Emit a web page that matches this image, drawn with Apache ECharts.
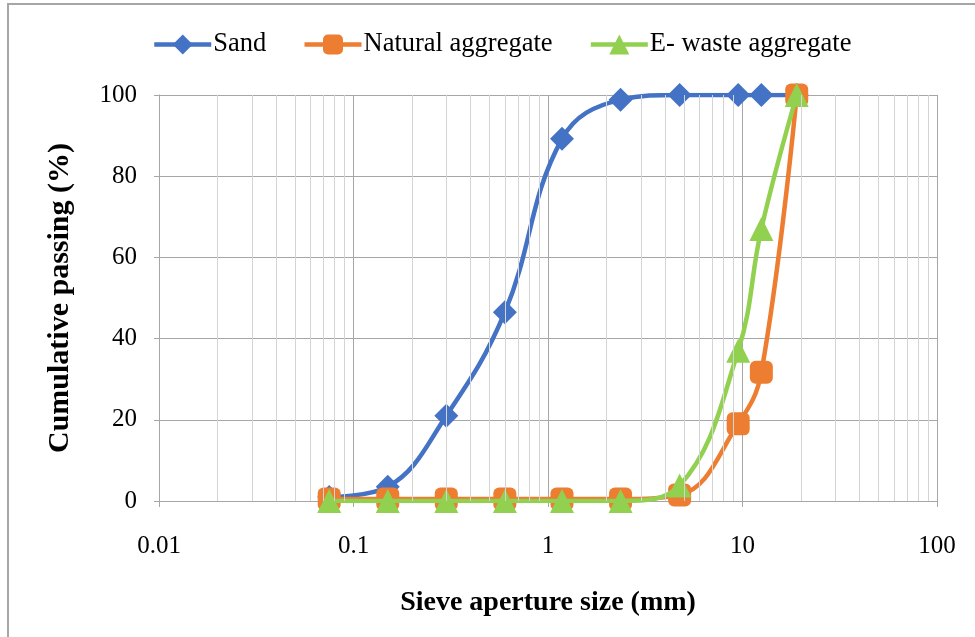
<!DOCTYPE html>
<html><head><meta charset="utf-8">
<script src="https://cdn.jsdelivr.net/npm/echarts@6/dist/echarts.min.js"></script>
<style>html,body{margin:0;padding:0;background:#fff}#c{width:975px;height:637px}</style>
</head><body><div id="c"></div>
<script>
const sieveSizes = [0.075, 0.15, 0.3, 0.6, 1.18, 2.36, 4.75, 9.5, 12.5, 19];
const sand = [1, 3.5, 21, 46.5, 89.2, 98.8, 100, 100, 100, 100];
const naturalAgg = [0.5, 0.5, 0.5, 0.5, 0.5, 0.5, 1.5, 19, 31.7, 100];
const ewasteAgg = [0, 0, 0, 0, 0, 0, 3.8, 37, 67, 100];
const minorGrid = [0.02,0.03,0.04,0.05,0.06,0.07,0.08,0.09,0.2,0.3,0.4,0.5,0.6,0.7,0.8,0.9,2,3,4,5,6,7,8,9,20,30,40,50,60,70,80,90];
const font = 'Liberation Serif';
const pair = a => sieveSizes.map((x,i)=>[x,a[i]]);
const chart = echarts.init(document.getElementById('c'));
chart.setOption({
  animation:false,
  graphic:[{type:'rect',shape:{x:8,y:4,width:1000,height:700},style:{fill:'none',stroke:'#a6a6a6',lineWidth:2},silent:true,z:-10}],
  legend:{top:31,left:152,itemWidth:57,itemHeight:25,itemGap:36,padding:0,
    lineStyle:{width:4.5},
    textStyle:{fontFamily:font,fontSize:26.5,color:'#000',padding:[0,0,0,-3]},
    data:['Sand','Natural aggregate','E- waste aggregate']},
  grid:{left:159,right:38,top:95,bottom:136},
  xAxis:{type:'log',logBase:10,min:0.01,max:100,
    name:'Sieve aperture size (mm)',nameLocation:'middle',nameGap:88,
    nameTextStyle:{fontFamily:font,fontSize:28,fontWeight:'bold',color:'#000'},
    axisLine:{show:true,onZero:false,lineStyle:{color:'#a6a6a6',width:1}},
    axisTick:{show:true,length:6,lineStyle:{color:'#a6a6a6'}},
    axisLabel:{fontFamily:font,fontSize:25,color:'#000',margin:33,formatter:v=>String(v)},
    splitLine:{show:true,lineStyle:{color:'#a6a6a6',width:1}}},
  yAxis:{type:'value',min:0,max:100,interval:20,
    name:'Cumulative passing (%)',nameLocation:'middle',nameGap:84,
    nameTextStyle:{fontFamily:font,fontSize:30,fontWeight:'bold',color:'#000'},
    axisLine:{show:true,lineStyle:{color:'#a6a6a6',width:1}},
    axisTick:{show:true,length:5,lineStyle:{color:'#a6a6a6'}},
    axisLabel:{fontFamily:font,fontSize:25,color:'#000',margin:22},
    splitLine:{show:true,lineStyle:{color:'#a6a6a6',width:1}}},
  series:[
    {name:'Sand',type:'line',smooth:0.4,data:pair(sand),symbol:'diamond',symbolSize:24,
     itemStyle:{color:'#4472C4'},lineStyle:{width:4.5,color:'#4472C4'},z:2,
     markLine:{silent:true,symbol:'none',label:{show:false},animation:false,
       lineStyle:{color:'#d4d4d4',width:1,type:'solid'},
       data:minorGrid.map(v=>({xAxis:v}))}},
    {name:'Natural aggregate',type:'line',smooth:0.4,data:pair(naturalAgg),symbol:'roundRect',symbolSize:23,
     itemStyle:{color:'#ED7D31'},lineStyle:{width:4.5,color:'#ED7D31'},z:3},
    {name:'E- waste aggregate',type:'line',smooth:0.4,data:pair(ewasteAgg),symbol:'triangle',symbolSize:24,
     itemStyle:{color:'#92D050'},lineStyle:{width:4.5,color:'#92D050'},z:4}
  ]
});
</script></body></html>
